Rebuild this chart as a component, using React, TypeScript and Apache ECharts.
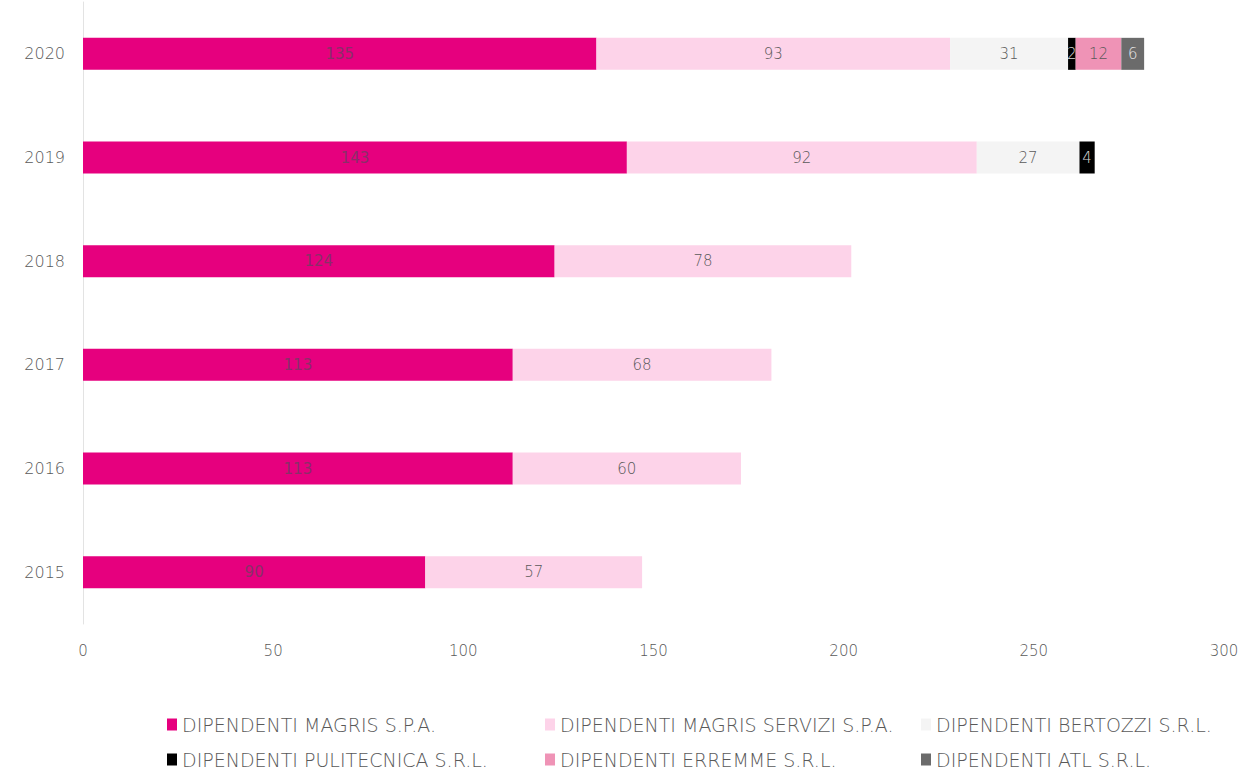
import React, { useEffect, useRef } from "react";
import * as echarts from "echarts";

const years = ["2015", "2016", "2017", "2018", "2019", "2020"];
const seriesNames = [
  "DIPENDENTI MAGRIS S.P.A.",
  "DIPENDENTI MAGRIS SERVIZI S.P.A.",
  "DIPENDENTI BERTOZZI S.R.L.",
  "DIPENDENTI PULITECNICA S.R.L.",
  "DIPENDENTI ERREMME S.R.L.",
  "DIPENDENTI ATL S.R.L.",
];
const magris = [90, 113, 113, 124, 143, 135];
const servizi = [57, 60, 68, 78, 92, 93];
const bertozzi = [null, null, null, null, 27, 31];
const pulitecnica = [null, null, null, null, 4, 2];
const erremme = [null, null, null, null, null, 12];
const atl = [null, null, null, null, null, 6];
const xTicks = [0, 50, 100, 150, 200, 250, 300];

const colors = ["#E6007E", "#FDD3E9", "#F4F4F4", "#000000", "#EF93B6", "#6B6B6B"];
const labelColors = ["#8a2f68", "#595959", "#595959", "#D9D9D9", "#595959", "#E6E6E6"];

export default function App() {
  const ref = useRef<HTMLDivElement>(null);
  useEffect(() => {
    const chart = echarts.init(ref.current!, null, { renderer: "svg" });
    const datasets = [magris, servizi, bertozzi, pulitecnica, erremme, atl];
    const font = "'DejaVu Sans', sans-serif";
    const legendCols = [
      { left: 167, names: [seriesNames[0], seriesNames[3]] },
      { left: 545, names: [seriesNames[1], seriesNames[4]] },
      { left: 921, names: [seriesNames[2], seriesNames[5]] },
    ];
    chart.setOption({
      animation: false,
      textStyle: { fontFamily: font },
      grid: { left: 83, right: 18, top: 2, bottom: 145, containLabel: false },
      xAxis: {
        type: "value",
        min: xTicks[0],
        max: xTicks[xTicks.length - 1],
        interval: 50,
        axisLine: { show: false },
        axisTick: { show: false },
        splitLine: { show: false },
        axisLabel: { color: "#595959", fontSize: 15, fontWeight: 200, margin: 19, fontFamily: font },
      },
      yAxis: {
        type: "category",
        data: years,
        axisLine: { show: true, lineStyle: { color: "#E3E3E3" } },
        axisTick: { show: false },
        axisLabel: { color: "#595959", fontSize: 16, fontWeight: 200, margin: 18, fontFamily: font },
      },
      legend: legendCols.map((c) => ({
        orient: "vertical",
        left: c.left,
        top: 715,
        height: 70,
        padding: 0,
        itemGap: 16,
        itemWidth: 10,
        itemHeight: 12,
        icon: "rect",
        data: c.names,
        textStyle: { color: "#595959", fontSize: 19, fontFamily: font, fontWeight: 200, padding: [0, 0, 0, 0] },
      })),
      series: datasets.map((d, i) => ({
        name: seriesNames[i],
        type: "bar",
        stack: "total",
        data: d,
        barWidth: 32,
        itemStyle: { color: colors[i] },
        label: {
          show: true,
          position: "inside",
          color: labelColors[i],
          fontSize: 15,
          fontWeight: i === 0 ? 400 : 200,
          fontFamily: font,
          formatter: (p: any) => (p.value == null ? "" : String(p.value)),
        },
      })),
    });
    return () => chart.dispose();
  }, []);
  return <div ref={ref} style={{ position: "absolute", left: 0, top: 0, width: 1242, height: 769 }} />;
}
